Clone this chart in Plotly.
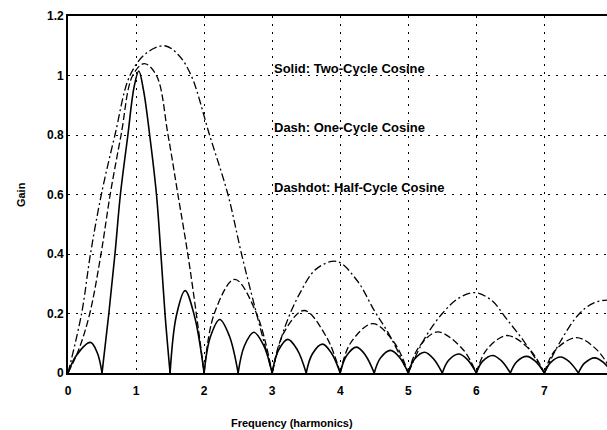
import plotly.graph_objects as go

# frequency in harmonics, gain
SOLID_X = [0, 0.12, 0.33, 0.43, 0.5,
           0.6, 0.69, 0.77, 0.88, 0.97, 1.04, 1.11, 1.2, 1.3, 1.365, 1.425, 1.5,
           1.59, 1.72, 1.86, 2.0,
           2.09, 2.23, 2.37, 2.5,
           2.59, 2.73, 2.87, 3.0,
           3.09, 3.23, 3.37, 3.5,
           3.59, 3.74, 3.87, 4.0,
           4.09, 4.24, 4.37, 4.5,
           4.59, 4.74, 4.87, 5.0,
           5.09, 5.24, 5.37, 5.5,
           5.59, 5.74, 5.87, 6.0,
           6.09, 6.24, 6.37, 6.5,
           6.59, 6.74, 6.87, 7.0,
           7.09, 7.24, 7.37, 7.5,
           7.59, 7.74, 7.87, 8.0]
SOLID_Y = [0, 0.058, 0.103, 0.068, 0,
           0.2, 0.4, 0.6, 0.8, 0.96, 1.015, 0.95, 0.8, 0.6, 0.4, 0.2, 0,
           0.19, 0.277, 0.19, 0,
           0.12, 0.18, 0.125, 0,
           0.09, 0.137, 0.095, 0,
           0.075, 0.113, 0.078, 0,
           0.064, 0.097, 0.067, 0,
           0.057, 0.087, 0.06, 0,
           0.05, 0.076, 0.053, 0,
           0.046, 0.07, 0.048, 0,
           0.042, 0.064, 0.045, 0,
           0.039, 0.059, 0.041, 0,
           0.037, 0.056, 0.039, 0,
           0.035, 0.054, 0.037, 0,
           0.033, 0.051, 0.035, 0]

DASH_X = [0, 0.16, 0.32, 0.485, 0.62, 0.78, 0.95, 1.12, 1.3, 1.47, 1.615, 1.76, 1.885, 2.0,
          2.15, 2.45, 2.77, 3.0,
          3.17, 3.47, 3.8, 4.0,
          4.15, 4.48, 4.8, 5.0,
          5.15, 5.43, 5.8, 6.0,
          6.15, 6.45, 6.78, 7.0,
          7.15, 7.47, 7.78, 8.0]
DASH_Y = [0, 0.08, 0.2, 0.4, 0.6, 0.8, 1.0, 1.04, 1.0, 0.8, 0.6, 0.4, 0.2, 0,
          0.2, 0.315, 0.2, 0,
          0.135, 0.21, 0.12, 0,
          0.1, 0.166, 0.1, 0,
          0.085, 0.138, 0.08, 0,
          0.078, 0.126, 0.08, 0,
          0.074, 0.119, 0.076, 0]

DASHDOT_X = [0, 0.2, 0.33, 0.49, 0.69, 0.91, 1.15, 1.42, 1.62, 1.81, 2.08, 2.35, 2.55, 2.77, 3.0,
             3.18, 3.4, 3.65, 3.95, 4.25, 4.5, 4.73, 5.0,
             5.25, 5.5, 5.73, 5.97, 6.22, 6.45, 6.72, 7.0,
             7.22, 7.5, 7.72, 7.95, 8.2]
DASHDOT_Y = [0, 0.2, 0.4, 0.6, 0.8, 1.0, 1.075, 1.1, 1.07, 1.0, 0.8, 0.6, 0.4, 0.2, 0,
             0.15, 0.265, 0.35, 0.375, 0.31, 0.21, 0.125, 0,
             0.12, 0.2, 0.25, 0.27, 0.245, 0.18, 0.1, 0,
             0.1, 0.196, 0.235, 0.245, 0.23]

X_TICKS = [0, 1, 2, 3, 4, 5, 6, 7]
Y_TICKS = [0, 0.2, 0.4, 0.6, 0.8, 1, 1.2]
Y_TICK_TEXT = ["0", "0.2", "0.4", "0.6", "0.8", "1", "1.2"]

LABELS = ["Solid: Two-Cycle Cosine", "Dash: One-Cycle Cosine", "Dashdot: Half-Cycle Cosine"]
LABEL_Y = [1.0, 0.8, 0.6]

FONT = "Liberation Sans, Arial, sans-serif"


def add_curve(fig, xs, ys, dash, width):
    # one spline per lobe so the nulls stay sharp
    start = 0
    for i in range(1, len(xs)):
        if ys[i] == 0 or i == len(xs) - 1:
            fig.add_trace(
                go.Scatter(
                    x=xs[start:i + 1],
                    y=ys[start:i + 1],
                    mode="lines",
                    line=dict(color="black", width=width, dash=dash,
                              shape="spline", smoothing=1),
                    showlegend=False,
                    hoverinfo="skip",
                )
            )
            start = i


fig = go.Figure()
add_curve(fig, DASHDOT_X, DASHDOT_Y, "8px,3px,2px,3px", 1.3)
add_curve(fig, DASH_X, DASH_Y, "7px,3px", 1.3)
add_curve(fig, SOLID_X, SOLID_Y, "solid", 1.6)

for text, y in zip(LABELS, LABEL_Y):
    fig.add_annotation(x=3.0, y=y, xref="x", yref="y", text=text, showarrow=False,
                       xanchor="left", yanchor="bottom", yshift=-2,
                       font=dict(family=FONT, size=13, color="black", weight="bold"))

fig.add_annotation(x=0.415, y=-0.14, xref="paper", yref="paper",
                   text="Frequency (harmonics)", showarrow=False,
                   xanchor="center", yanchor="middle",
                   font=dict(family=FONT, size=11, color="black", weight="bold"))
fig.add_annotation(x=-0.088, y=0.5, xref="paper", yref="paper",
                   text="Gain", showarrow=False, textangle=-90,
                   xanchor="center", yanchor="middle",
                   font=dict(family=FONT, size=11, color="black", weight="bold"))

fig.update_layout(
    width=607,
    height=430,
    margin=dict(l=68, r=0, t=16, b=57),
    paper_bgcolor="white",
    plot_bgcolor="white",
    font=dict(family=FONT, size=12, color="black"),
    showlegend=False,
)
fig.update_xaxes(
    range=[0, 7.92],
    tickvals=X_TICKS,
    showgrid=True,
    gridcolor="black",
    gridwidth=1.2,
    griddash="2px,6px",
    zeroline=False,
    showline=True,
    linecolor="black",
    linewidth=1.6,
    mirror=True,
    ticks="",
    ticklabelstandoff=6,
    tickfont=dict(family=FONT, size=12, color="black", weight="bold"),
)
fig.update_yaxes(
    range=[0, 1.2],
    tickvals=Y_TICKS,
    ticktext=Y_TICK_TEXT,
    showgrid=True,
    gridcolor="black",
    gridwidth=1.2,
    griddash="2px,6px",
    zeroline=False,
    showline=True,
    linecolor="black",
    linewidth=1.6,
    ticks="",
    tickfont=dict(family=FONT, size=12, color="black", weight="bold"),
)

fig.write_html(
    "out.html",
    config={"displayModeBar": False},
    post_script="document.body.style.margin = '0px';",
)
